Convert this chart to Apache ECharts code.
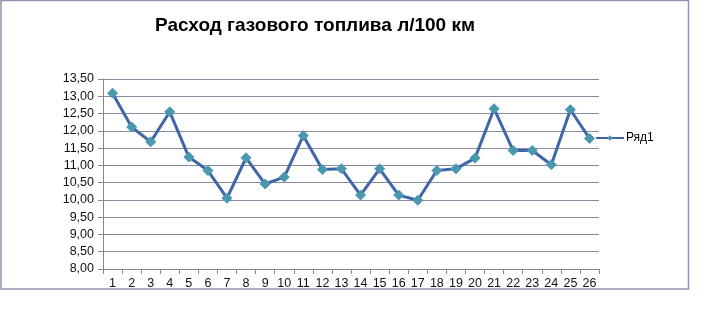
<!DOCTYPE html>
<html><head><meta charset="utf-8">
<script src="https://cdn.jsdelivr.net/npm/echarts@6/dist/echarts.min.js"></script>
<style>html,body{margin:0;padding:0;background:#fff}#c{width:709px;height:315px}</style>
</head><body><div id="c"></div>
<script>
const titleText = 'Расход газового топлива л/100 км';
const seriesName = 'Ряд1';
const categories = ['1','2','3','4','5','6','7','8','9','10','11','12','13','14','15','16','17','18','19','20','21','22','23','24','25','26'];
const values = [13.09,12.11,11.68,12.55,11.24,10.85,10.05,11.22,10.46,10.66,11.86,10.88,10.90,10.14,10.90,10.14,9.99,10.85,10.90,11.21,12.64,11.43,11.43,11.02,12.61,11.78];
const yMin = 8, yMax = 13.5, yStep = 0.5;

const chart = echarts.init(document.getElementById('c'));
chart.setOption({
  animation: false,
  backgroundColor: '#fff',
  graphic: [{
    type: 'rect', shape: {x: 1, y: 0.5, width: 687.5, height: 288.5},
    style: {fill: 'none', stroke: '#9592b0', lineWidth: 1.5}, silent: true, z: -1
  }],
  title: {
    text: titleText, left: 155, top: 16, padding: 0,
    textStyle: {fontFamily: 'Liberation Sans, Arial', fontSize: 19, fontWeight: 'bold', color: '#000'}
  },
  legend: {
    data: [seriesName], left: 590, top: 127, itemWidth: 28, itemHeight: 7, itemGap: 2,
    textStyle: {fontFamily: 'Liberation Sans, Arial', fontSize: 12, color: '#000', padding: [0,0,0,-3]}
  },
  grid: {left: 103, right: 110, top: 79, bottom: 46},
  xAxis: {
    type: 'category', data: categories, boundaryGap: true,
    axisLine: {lineStyle: {color: '#8a8898', width: 1}},
    axisTick: {show: true, length: 5, lineStyle: {color: '#8a8898'}},
    axisLabel: {fontFamily: 'Liberation Sans, Arial', fontSize: 12.5, color: '#111', margin: 8},
    splitLine: {show: false}
  },
  yAxis: {
    type: 'value', min: yMin, max: yMax, interval: yStep,
    axisLine: {show: true, lineStyle: {color: '#8a8898', width: 1}},
    axisTick: {show: true, length: 5, lineStyle: {color: '#8a8898'}},
    axisLabel: {fontFamily: 'Liberation Sans, Arial', fontSize: 12.5, color: '#111', margin: 9,
      formatter: v => v.toFixed(2).replace('.', ',')},
    splitLine: {show: true, lineStyle: {color: '#8c8aa2', width: 1}}
  },
  series: [{
    name: seriesName, type: 'line', data: values,
    symbol: 'diamond', symbolSize: 10,
    lineStyle: {color: '#4166a8', width: 3},
    itemStyle: {color: '#4a98b0', borderColor: '#4a98b0'},
    color: '#4166a8'
  }]
});
</script></body></html>
